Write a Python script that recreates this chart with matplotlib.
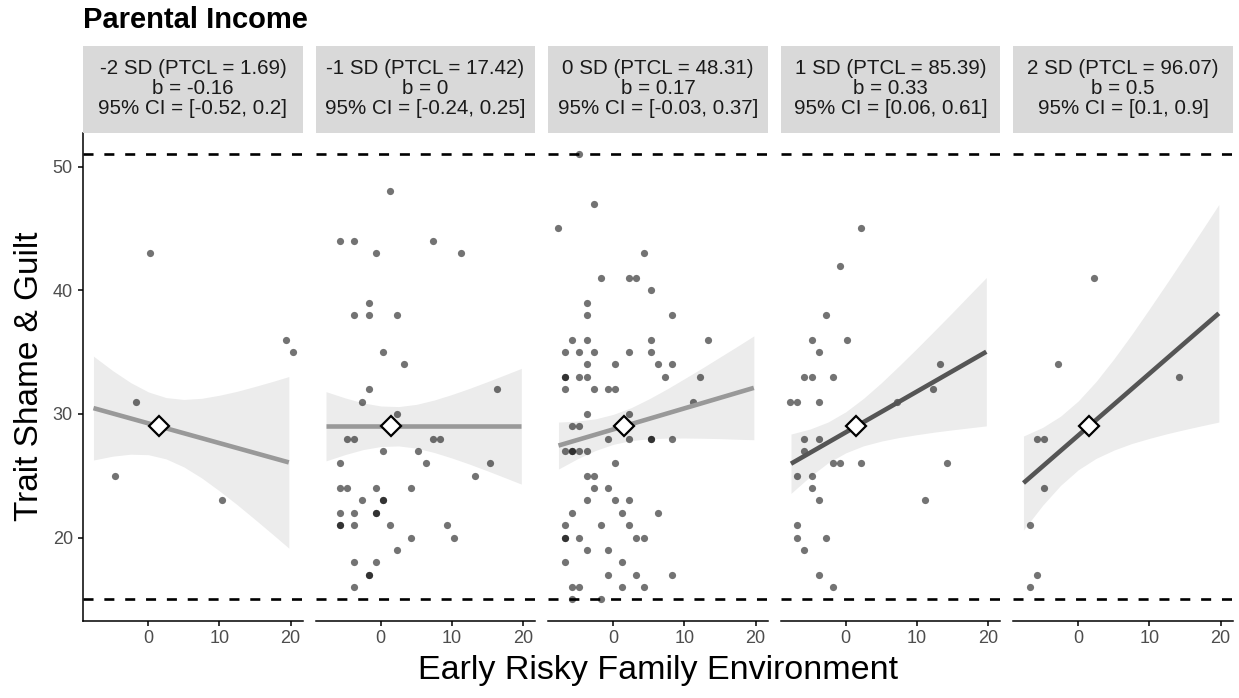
import matplotlib
matplotlib.use("Agg")
import matplotlib.pyplot as plt
import numpy as np

plt.rcParams['font.family'] = ['Liberation Sans', 'DejaVu Sans']

# ---------------- data ----------------
sd_labels = ["-2 SD", "-1 SD", "0 SD", "1 SD", "2 SD"]
ptcl = ["1.69", "17.42", "48.31", "85.39", "96.07"]
b_values = [-0.16, 0, 0.17, 0.33, 0.5]
b_text = ["-0.16", "0", "0.17", "0.33", "0.5"]
ci_text = ["[-0.52, 0.2]", "[-0.24, 0.25]", "[-0.03, 0.37]", "[0.06, 0.61]", "[0.1, 0.9]"]
significant = [False, False, False, True, True]

center_x = 1.48
center_y = 29
line_x_range = [-7.7, 19.75]

x_p1 = [-4.7, -1.7, 0.3, 10.3, 19.3, 20.3]
y_p1 = [25, 31, 43, 23, 36, 35]

x_p2 = [1.3, -5.7, -3.7, 7.3, -0.7, 11.3, -1.7, -3.7, -1.7, 2.3, 0.3, 3.3, -1.7, 16.3,
        -2.7, 2.3, -4.7, -3.7, 7.3, 8.3, 0.3, 5.3, -5.7, 6.3, 15.3, 13.3, -5.7, -4.7,
        -0.7, 4.3, -2.7, 0.3, 0.3, -5.7, -3.7, -0.7, -0.7, -5.7, -5.7, -3.7, 1.3, 9.3,
        4.3, 10.3, 2.3, -3.7, -0.7, -1.7, -1.7, -3.7]
y_p2 = [48, 44, 44, 44, 43, 43, 39, 38, 38, 38, 35, 34, 32, 32,
        31, 30, 28, 28, 28, 28, 27, 27, 26, 26, 26, 25, 24, 24,
        24, 24, 23, 23, 23, 22, 22, 22, 22, 21, 21, 21, 21, 21,
        20, 20, 19, 18, 18, 17, 17, 16]

x_p3 = [-4.75, -2.75, -7.75, 4.25, -1.75, 2.25, 3.25, 5.25, -3.75, -3.75, 8.25,
        -5.75, -3.75, 5.25, 13.25, -6.75, -4.75, -2.75, 2.25, 5.25, -3.75, 0.25, 6.25, 8.25,
        -6.75, -6.75, -4.75, -3.75, 7.25, 12.25, -6.75, -2.75, -0.75, 0.25, 11.25,
        -3.75, 2.25, -5.75, -4.75, -0.75, 2.25, 5.25, 5.25, 8.25,
        -6.75, -5.75, -5.75, -4.75, -3.75, 0.25, -3.75, -2.75, -2.75, -0.75,
        -3.75, 0.25, 2.25, -5.75, 1.25, 6.25, -6.75, -1.75, 2.25,
        -6.75, -6.75, -4.75, 3.25, 4.25, -3.75, -0.75, -6.75, 1.25,
        -0.75, 3.25, 8.25, -5.75, -4.75, 1.25, 4.25, -5.75, -1.75]
y_p3 = [51, 47, 45, 43, 41, 41, 41, 40, 39, 38, 38,
        36, 36, 36, 36, 35, 35, 35, 35, 35, 34, 34, 34, 34,
        33, 33, 33, 33, 33, 33, 32, 32, 32, 32, 31,
        30, 30, 29, 29, 28, 28, 28, 28, 28,
        27, 27, 27, 27, 27, 26, 25, 25, 24, 24,
        23, 23, 23, 22, 22, 22, 21, 21, 21,
        20, 20, 20, 20, 20, 19, 19, 18, 18,
        17, 17, 17, 16, 16, 16, 16, 15, 15]

x_p4 = [2.2, -0.8, -2.8, -4.8, 0.2, -3.8, 13.2, -5.8, -4.8, -1.8, 12.2,
        -7.8, -6.8, -3.8, 7.2, -5.8, -3.8, -5.8, -1.8, -0.8, 2.2, 14.2,
        -6.8, -4.8, -4.8, -3.8, 11.2, -6.8, -6.8, -2.8, -5.8, -3.8, -1.8]
y_p4 = [45, 42, 38, 36, 36, 35, 34, 33, 33, 33, 32,
        31, 31, 31, 31, 28, 28, 27, 26, 26, 26, 26,
        25, 25, 24, 23, 23, 21, 20, 20, 19, 17, 16]

x_p5 = [2.15, -2.85, 14.15, -5.85, -4.85, -4.85, -6.85, -5.85, -6.85]
y_p5 = [41, 34, 33, 28, 28, 24, 21, 17, 16]

points_x = [x_p1, x_p2, x_p3, x_p4, x_p5]
points_y = [y_p1, y_p2, y_p3, y_p4, y_p5]

# confidence band edges read at these x positions
ribbon_x = [-7.7, -5, -2.5, 0, 2.5, 5, 7.5, 10, 12.5, 15, 17.5, 19.75]
ribbon_lo = [
    [26.27, 26.58, 26.74, 26.70, 26.36, 25.71, 24.82, 23.77, 22.65, 21.46, 20.25, 19.14],
    [26.20, 26.71, 27.11, 27.36, 27.41, 27.23, 26.88, 26.43, 25.93, 25.39, 24.83, 24.32],
    [25.54, 26.38, 27.04, 27.54, 27.84, 27.99, 28.04, 28.05, 28.03, 28.00, 27.95, 27.91],
    [23.57, 24.94, 26.04, 26.85, 27.42, 27.80, 28.09, 28.32, 28.53, 28.71, 28.88, 29.03],
    [20.61, 22.61, 24.21, 25.48, 26.40, 27.07, 27.60, 28.02, 28.40, 28.74, 29.06, 29.34],
]
ribbon_hi = [
    [34.67, 33.50, 32.54, 31.78, 31.32, 31.17, 31.26, 31.51, 31.83, 32.22, 32.63, 33.02],
    [31.80, 31.29, 30.89, 30.64, 30.59, 30.77, 31.12, 31.57, 32.07, 32.61, 33.17, 33.68],
    [29.34, 29.42, 29.60, 29.96, 30.50, 31.21, 32.00, 32.85, 33.71, 34.60, 35.49, 36.31],
    [28.37, 28.78, 29.34, 30.17, 31.26, 32.52, 33.89, 35.30, 36.75, 38.21, 39.70, 41.03],
    [28.21, 28.91, 29.81, 31.05, 32.62, 34.45, 36.42, 38.50, 40.62, 42.78, 44.96, 46.94],
]

ref_lines = [15, 51]
x_ticks = [0, 10, 20]
y_ticks = [20, 30, 40, 50]

# ---------------- layout ----------------
W, H = 1239, 698
fig = plt.figure(figsize=(W / 100, H / 100), dpi=100)

panel_left0 = 83.3
panel_step = 232.5
panel_w = 219.4
panel_top = 133.3
panel_bottom = 620.7
strip_top = 46

tick_color = '#4D4D4D'
tick_size = 13

for i in range(5):
    left = (panel_left0 + i * panel_step) / W
    ax = fig.add_axes([left, (H - panel_bottom) / H, panel_w / W, (panel_bottom - panel_top) / H])
    ax.set_xlim(-9.13, 21.7)
    ax.set_ylim(13.27, 52.7)

    ax.fill_between(ribbon_x, ribbon_lo[i], ribbon_hi[i], color='#ECECEC', lw=0, zorder=1)
    ax.scatter(points_x[i], points_y[i], s=27, color='black', alpha=0.55, lw=0, zorder=2)
    for r in ref_lines:
        ax.axhline(r, color='black', lw=1.9, linestyle=(0, (3.8, 4.1)), zorder=2.5)
    lx = np.array(line_x_range)
    ly = center_y + b_values[i] * (lx - center_x)
    ax.plot(lx, ly, color='#555555' if significant[i] else '#999999', lw=3.3,
            solid_capstyle='butt', zorder=3)
    ax.plot([center_x], [center_y], marker='D', ms=10.5, mfc='white', mec='black', mew=1.6, zorder=4)

    for sp in ['top', 'right']:
        ax.spines[sp].set_visible(False)
    ax.spines['bottom'].set_linewidth(1.1)
    ax.spines['left'].set_linewidth(1.1)
    ax.set_xticks(x_ticks)
    ax.tick_params(axis='x', length=3.5, width=1.1, color='black', labelsize=tick_size,
                   labelcolor=tick_color, pad=3)
    if i == 0:
        ax.set_yticks(y_ticks)
        ax.tick_params(axis='y', length=3.5, width=1.1, color='black', labelsize=tick_size,
                       labelcolor=tick_color, pad=4)
    else:
        ax.spines['left'].set_visible(False)
        ax.set_yticks([])

    # strip
    sax = fig.add_axes([left, (H - panel_top) / H, panel_w / W, (panel_top - strip_top) / H])
    sax.set_facecolor('#D9D9D9')
    sax.set_xticks([])
    sax.set_yticks([])
    for sp in sax.spines.values():
        sp.set_visible(False)
    strip_lines = [f"{sd_labels[i]} (PTCL = {ptcl[i]})", f"b = {b_text[i]}", f"95% CI = {ci_text[i]}"]
    for k, txt in enumerate(strip_lines):
        ypix = 69 + 20 * k
        sax.text(0.5, (panel_top - ypix) / (panel_top - strip_top), txt, ha='center', va='center',
                 fontsize=14.8, color='#1A1A1A', transform=sax.transAxes)

fig.text(panel_left0 / W, 1 - 20 / H, 'Parental Income', fontsize=21, fontweight='bold',
         ha='left', va='center', color='black')
fig.text((panel_left0 + (4 * panel_step + panel_w) / 2) / W, 1 - 670 / H,
         'Early Risky Family Environment', fontsize=24.5, ha='center', va='center', color='black')
fig.text(30 / W, 1 - 376 / H, 'Trait Shame & Guilt', fontsize=24, rotation=90,
         ha='center', va='center', color='black')

fig.savefig('out.png', dpi=100)
